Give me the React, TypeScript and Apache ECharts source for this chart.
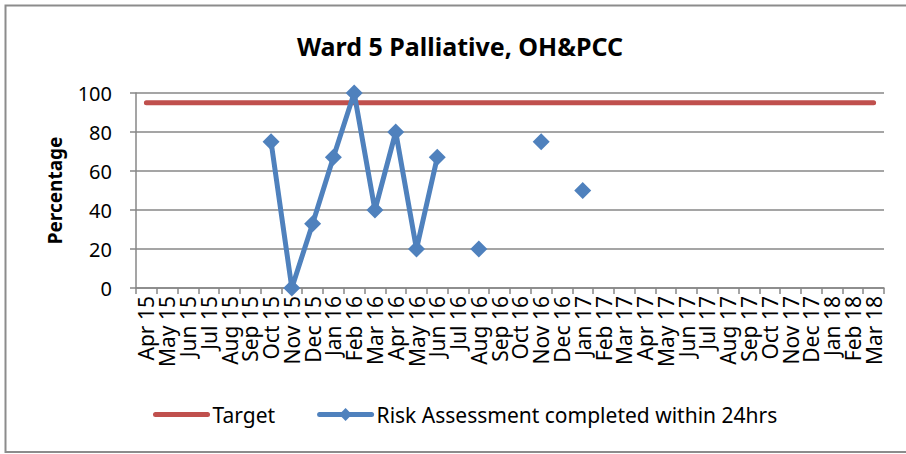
import React, { useEffect, useRef } from "react";
import * as echarts from "echarts";

const months = [
  "Apr 15", "May 15", "Jun 15", "Jul 15", "Aug 15", "Sep 15", "Oct 15", "Nov 15", "Dec 15",
  "Jan 16", "Feb 16", "Mar 16", "Apr 16", "May 16", "Jun 16", "Jul 16", "Aug 16", "Sep 16",
  "Oct 16", "Nov 16", "Dec 16", "Jan 17", "Feb 17", "Mar 17", "Apr 17", "May 17", "Jun 17",
  "Jul 17", "Aug 17", "Sep 17", "Oct 17", "Nov 17", "Dec 17", "Jan 18", "Feb 18", "Mar 18",
];

const targetValues = months.map(() => 95);

const riskValues: (number | null)[] = [
  null, null, null, null, null, null, 75, 0, 33,
  67, 100, 40, 80, 20, 67, null, 20, null,
  null, 75, null, 50, null, null, null, null, null,
  null, null, null, null, null, null, null, null, null,
];

const yTicks = { min: 0, max: 100, interval: 20 };

const FONT = "'Noto Sans', sans-serif";
const GRID_COLOR = "#878787";
const RED = "#C0504D";
const BLUE = "#4F81BD";

export default function App() {
  const ref = useRef<HTMLDivElement>(null);
  useEffect(() => {
    if (!ref.current) return;
    const chart = echarts.init(ref.current, null, { renderer: "svg" });
    chart.setOption({
      animation: false,
      backgroundColor: "#ffffff",
      textStyle: { fontFamily: FONT },
      graphic: [
        {
          type: "rect",
          shape: { x: 5.5, y: 5.5, width: 920, height: 446.5 },
          style: { fill: "none", stroke: "#8c8c8c", lineWidth: 2 },
          silent: true,
        },
      ],
      title: {
        text: "Ward 5 Palliative, OH&PCC",
        left: 455,
        textAlign: "center",
        top: 28,
        textStyle: { fontFamily: FONT, fontWeight: "bold", fontSize: 25, color: "#000" },
      },
      legend: {
        left: 148,
        top: 399,
        itemWidth: 52,
        itemHeight: 16,
        itemGap: 42,
        textStyle: { fontFamily: FONT, fontSize: 21, color: "#000" },
        data: [
          {
            name: "Target",
            itemStyle: { color: RED, opacity: 0 },
            lineStyle: { color: RED, width: 5, cap: "round" },
          },
          {
            name: "Risk Assessment completed within 24hrs",
            itemStyle: { color: BLUE },
            lineStyle: { color: BLUE, width: 5, cap: "round" },
          },
        ],
      },
      grid: { left: 136, right: 22, top: 93, bottom: 166, containLabel: false },
      xAxis: {
        type: "category",
        data: months,
        boundaryGap: true,
        axisLine: { lineStyle: { color: GRID_COLOR, width: 1.5 } },
        axisTick: { show: true, length: 6, lineStyle: { color: GRID_COLOR, width: 1.5 } },
        axisLabel: {
          interval: 0,
          rotate: 90,
          margin: 8,
          fontFamily: FONT,
          fontSize: 21,
          color: "#000",
        },
      },
      yAxis: {
        type: "value",
        min: yTicks.min,
        max: yTicks.max,
        interval: yTicks.interval,
        name: "Percentage",
        nameLocation: "middle",
        nameGap: 72,
        nameTextStyle: { fontFamily: FONT, fontWeight: "bold", fontSize: 19, color: "#000" },
        axisLine: { show: true, lineStyle: { color: GRID_COLOR, width: 1.5 } },
        axisTick: { show: true, length: 6, lineStyle: { color: GRID_COLOR, width: 1.5 } },
        axisLabel: { margin: 24, fontFamily: FONT, fontSize: 20, color: "#000" },
        splitLine: { lineStyle: { color: GRID_COLOR, width: 1.5 } },
      },
      series: [
        {
          name: "Target",
          type: "line",
          data: targetValues,
          symbol: "none",
          lineStyle: { color: RED, width: 5, cap: "round" },
          itemStyle: { color: RED },
          z: 2,
        },
        {
          name: "Risk Assessment completed within 24hrs",
          type: "line",
          data: riskValues,
          connectNulls: false,
          symbol: "diamond",
          symbolSize: 17,
          showAllSymbol: true,
          lineStyle: { color: BLUE, width: 5 },
          itemStyle: { color: BLUE },
          z: 3,
        },
      ],
    });
    return () => chart.dispose();
  }, []);
  return (
    <div
      ref={ref}
      style={{ position: "fixed", left: 0, top: 0, width: 906, height: 454, background: "#fff" }}
    />
  );
}
